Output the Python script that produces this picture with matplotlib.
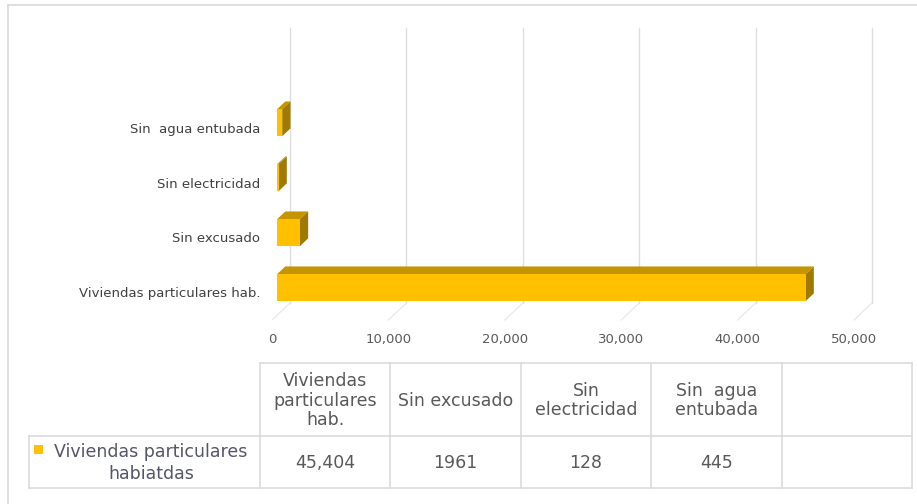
import numpy as np
import matplotlib
matplotlib.use("Agg")
import matplotlib.pyplot as plt
from matplotlib.patches import Polygon, Rectangle
from matplotlib.lines import Line2D

# --- data -----------------------------------------------------------------
categories = ["Viviendas particulares hab.", "Sin excusado", "Sin electricidad",
              "Sin  agua entubada", ""]
table_headers = ["Viviendas\nparticulares\nhab.", "Sin excusado", "Sin\nelectricidad",
                 "Sin  agua\nentubada", ""]
values = [45404, 1961, 128, 445, np.nan]
series_name = "Viviendas particulares\nhabiatdas"
x_ticks = [0, 10000, 20000, 30000, 40000, 50000]

# --- style ----------------------------------------------------------------
GOLD = "#FFC000"
GOLD_TOP = "#C49500"
GOLD_SIDE = "#A07A00"
GRID = "#DEDEDE"
FLOOR = "#E8E8EE"
TEXT = "#595959"
FONT = "DejaVu Sans"

W, H = 917, 504
fig = plt.figure(figsize=(W / 100, H / 100), dpi=100)
fig.patch.set_facecolor("white")

# full-figure pixel canvas for the frame and the data table
tab = fig.add_axes([0, 0, 1, 1])
tab.set_xlim(0, W)
tab.set_ylim(H, 0)
tab.axis("off")

# chart frame
tab.add_line(Line2D([8, 8], [5, H + 5], color="#D9D9D9", lw=1.2))
tab.add_line(Line2D([8, W + 5], [5, 5], color="#D9D9D9", lw=1.2))

# --- 3D-looking bar chart -------------------------------------------------
left_px, right_px, bottom_px, top_px = 272, 854, 320, 45
ax = fig.add_axes([left_px / W, (H - bottom_px) / H,
                   (right_px - left_px) / W, (bottom_px - top_px) / H])
xmax = x_ticks[-1]
ax.set_xlim(0, xmax)
n = len(categories)
ax.set_ylim(-0.5, n - 0.5)
ax.set_facecolor("none")
for s in ax.spines.values():
    s.set_visible(False)

# depth of the floor, converted from pixels to data units
DX = 18 * xmax / (right_px - left_px)
DY = 17 * n / (bottom_px - top_px)
f_front, f_back = 0.28, 0.74
half = 0.245

# back-wall gridlines and floor lines
for t in x_ticks:
    ax.plot([t + DX, t + DX], [-0.5 + DY, n - 0.5 + DY], color=GRID, lw=1.0,
            clip_on=False, zorder=1)
    ax.plot([t, t + DX], [-0.5, -0.5 + DY], color=FLOOR, lw=0.9,
            clip_on=False, zorder=1)

ypos = np.arange(n)
for y, v in zip(ypos, values):
    if np.isnan(v):
        continue
    x0f, x0b = f_front * DX, f_back * DX
    yf, yb = y + f_front * DY, y + f_back * DY
    # top face
    ax.add_patch(Polygon([(x0f, yf + half), (v + x0f, yf + half),
                          (v + x0b, yb + half), (x0b, yb + half)],
                         closed=True, facecolor=GOLD_TOP, edgecolor="none",
                         clip_on=False, zorder=3))
    # end face
    ax.add_patch(Polygon([(v + x0f, yf - half), (v + x0b, yb - half),
                          (v + x0b, yb + half), (v + x0f, yf + half)],
                         closed=True, facecolor=GOLD_SIDE, edgecolor="none",
                         clip_on=False, zorder=3))
    # front face
    ax.barh(yf, v, height=2 * half, left=x0f, color=GOLD, zorder=4,
            clip_on=False)

ax.set_xticks(x_ticks)
ax.set_xticklabels([f"{t:,}" for t in x_ticks], fontsize=9.5, color=TEXT,
                   family=FONT)
ax.set_yticks(ypos)
ax.set_yticklabels(categories, fontsize=9.5, color="#404040", family=FONT)
ax.tick_params(axis="x", length=0, pad=9.5)
ax.tick_params(axis="y", length=0, pad=8.5)

# --- data table -----------------------------------------------------------
col_x0, col_x1 = 260, 912
row_top, row_mid, row_bot = 363, 436, 488
legend_x0 = 29
ncol = len(table_headers)
edges = np.linspace(col_x0, col_x1, ncol + 1)

lkw = dict(color="#D9D9D9", lw=1.1)
tab.add_line(Line2D([col_x0, col_x1], [row_top, row_top], **lkw))
tab.add_line(Line2D([legend_x0, col_x1], [row_mid, row_mid], **lkw))
tab.add_line(Line2D([legend_x0, col_x1], [row_bot, row_bot], **lkw))
tab.add_line(Line2D([legend_x0, legend_x0], [row_mid, row_bot], **lkw))
for e in edges:
    tab.add_line(Line2D([e, e], [row_top, row_bot], **lkw))

for i in range(ncol):
    cx = (edges[i] + edges[i + 1]) / 2
    tab.text(cx, (row_top + row_mid) / 2 + 1, table_headers[i], ha="center",
             va="center", fontsize=12.5, color=TEXT, family=FONT,
             linespacing=1.12)
    v = values[i]
    label = "" if np.isnan(v) else (f"{v:,}" if v >= 10000 else f"{v}")
    tab.text(cx, (row_mid + row_bot) / 2 + 1, label, ha="center", va="center",
             fontsize=12.5, color=TEXT, family=FONT)

# legend key and series name
tab.add_patch(Rectangle((34, 445), 9, 9, facecolor=GOLD, edgecolor="none"))
tab.text(151, (row_mid + row_bot) / 2 + 1, series_name, ha="center",
         va="center", fontsize=12.5, color="#55556A", family=FONT,
         linespacing=1.25, multialignment="center")

fig.savefig("out.png", dpi=100)
